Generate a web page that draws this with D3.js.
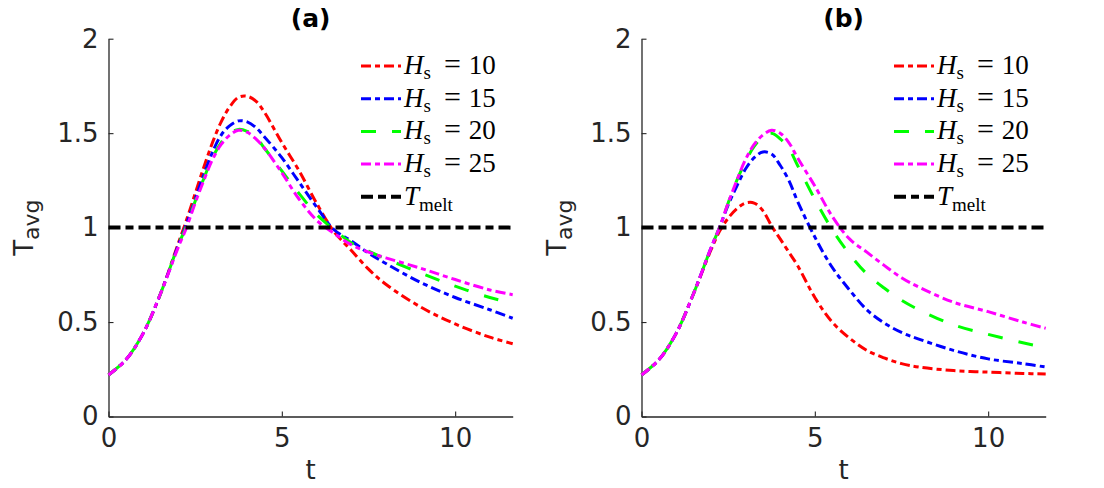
<!DOCTYPE html>
<html>
<head>
<meta charset="utf-8">
<script src="https://cdn.jsdelivr.net/npm/d3@7"></script>
<style>
  body { margin: 0; background: #fff; }
  svg { display: block; }
</style>
</head>
<body>
<div id="chart"></div>
<script>
// time grid shared by every curve
const tGrid = [0, 0.5, 1, 1.5, 2, 2.25, 2.5, 2.75, 3, 3.25, 3.5, 3.75, 4, 4.25, 4.5, 5, 5.5, 6, 6.5, 7, 7.5, 8, 9, 10, 11, 11.66];

// panel (a)
const aHs10 = [0.22, 0.30, 0.44, 0.65, 0.91, 1.04, 1.18, 1.32, 1.45, 1.56, 1.64, 1.69, 1.695, 1.67, 1.61, 1.45, 1.30, 1.13, 0.98, 0.88, 0.78, 0.70, 0.58, 0.49, 0.42, 0.385];
const aHs15 = [0.22, 0.30, 0.44, 0.65, 0.90, 1.02, 1.15, 1.28, 1.40, 1.49, 1.54, 1.565, 1.56, 1.53, 1.48, 1.37, 1.24, 1.11, 0.99, 0.93, 0.865, 0.81, 0.71, 0.63, 0.565, 0.52];
const aHs20 = [0.22, 0.30, 0.44, 0.65, 0.90, 1.01, 1.14, 1.26, 1.37, 1.45, 1.50, 1.52, 1.51, 1.48, 1.42, 1.30, 1.18, 1.07, 0.99, 0.92, 0.875, 0.835, 0.76, 0.69, 0.63, 0.60];
const aHs25 = [0.22, 0.30, 0.44, 0.65, 0.89, 1.00, 1.13, 1.25, 1.36, 1.44, 1.49, 1.515, 1.505, 1.47, 1.42, 1.29, 1.15, 1.04, 0.97, 0.91, 0.87, 0.84, 0.785, 0.725, 0.67, 0.645];

// panel (b)
const bHs10 = [0.22, 0.30, 0.44, 0.65, 0.88, 0.98, 1.05, 1.10, 1.13, 1.13, 1.09, 1.01, 0.94, 0.87, 0.80, 0.63, 0.50, 0.415, 0.35, 0.31, 0.28, 0.262, 0.243, 0.235, 0.228, 0.225];
const bHs15 = [0.22, 0.30, 0.44, 0.65, 0.89, 1.00, 1.12, 1.22, 1.31, 1.37, 1.40, 1.39, 1.33, 1.25, 1.14, 0.95, 0.79, 0.67, 0.565, 0.495, 0.445, 0.41, 0.35, 0.305, 0.28, 0.262];
const bHs20 = [0.22, 0.30, 0.44, 0.65, 0.89, 1.00, 1.13, 1.25, 1.35, 1.43, 1.48, 1.50, 1.47, 1.42, 1.33, 1.15, 0.99, 0.86, 0.755, 0.68, 0.615, 0.565, 0.485, 0.435, 0.39, 0.365];
const bHs25 = [0.22, 0.30, 0.44, 0.65, 0.89, 1.00, 1.13, 1.25, 1.36, 1.44, 1.49, 1.515, 1.50, 1.45, 1.37, 1.22, 1.06, 0.94, 0.87, 0.80, 0.735, 0.685, 0.605, 0.555, 0.50, 0.467];

const hsValues = [10, 15, 20, 25];
const tMelt = 1;
const xTicks = [0, 5, 10];
const yTicks = [0, 0.5, 1, 1.5, 2];
const xMax = 11.66;

const colors = ['#ff0000', '#0000ff', '#00ff00', '#ff00ff'];
const dashes = ['10,4,5,4', '10,4,5,4', '15,16', '10,4,5,4'];

const svgWidth = 1104;
const svgHeight = 488;
const axColor = '#262626';
const sansFont = '"DejaVu Sans", sans-serif';
const serifFont = '"Liberation Serif", "DejaVu Serif", serif';

const svg = d3.select('#chart')
  .append('svg')
  .attr('width', svgWidth)
  .attr('height', svgHeight);

function drawPanel(left, title, series) {
  const width = 404.2;
  const top = 38.7;
  const height = 416.5 - top;

  const g = svg.append('g')
    .attr('transform', `translate(${left},${top})`);

  const x = d3.scaleLinear().domain([0, xMax]).range([0, width]);
  const y = d3.scaleLinear().domain([0, 2]).range([height, 0]);

  // axes, ticks pointing inward like matlab
  const xAxis = g.append('g')
    .attr('transform', `translate(0,${height})`)
    .call(d3.axisBottom(x).tickValues(xTicks).tickFormat(d3.format('d'))
      .tickSizeInner(-5).tickSizeOuter(0).tickPadding(12));

  const yAxis = g.append('g')
    .call(d3.axisLeft(y).tickValues(yTicks).tickFormat(d => String(d))
      .tickSizeInner(-5).tickSizeOuter(0).tickPadding(10));

  [xAxis, yAxis].forEach(ax => {
    ax.select('.domain').attr('stroke', axColor).attr('stroke-width', 1.3);
    ax.selectAll('.tick line').attr('stroke', axColor).attr('stroke-width', 1.1);
    ax.selectAll('.tick text')
      .attr('fill', axColor)
      .style('font-family', sansFont)
      .style('font-size', '26px');
  });

  const line = d3.line()
    .x((d, i) => x(tGrid[i]))
    .y(d => y(d))
    .curve(d3.curveCatmullRom.alpha(0.5));

  series.forEach((s, i) => {
    g.append('path')
      .datum(s)
      .attr('d', line)
      .attr('fill', 'none')
      .attr('stroke', colors[i])
      .attr('stroke-width', 3)
      .attr('stroke-dasharray', dashes[i]);
  });

  // melting temperature
  g.append('line')
    .attr('x1', x(0))
    .attr('x2', x(xMax))
    .attr('y1', y(tMelt))
    .attr('y2', y(tMelt))
    .attr('stroke', '#000')
    .attr('stroke-width', 4)
    .attr('stroke-dasharray', '12,5,8,5');

  // title
  g.append('text')
    .attr('x', width / 2)
    .attr('y', -12)
    .attr('text-anchor', 'middle')
    .style('font-family', sansFont)
    .style('font-weight', 'bold')
    .style('font-size', '25px')
    .attr('fill', '#000')
    .text(title);

  // x label
  g.append('text')
    .attr('x', width / 2)
    .attr('y', height + 63)
    .attr('text-anchor', 'middle')
    .style('font-family', sansFont)
    .style('font-size', '26px')
    .attr('fill', axColor)
    .text('t');

  // y label T_avg
  const yl = g.append('text')
    .attr('transform', `translate(-76,${height / 2}) rotate(-90)`)
    .attr('text-anchor', 'middle')
    .style('font-family', sansFont)
    .style('font-size', '26px')
    .attr('fill', axColor);
  yl.append('tspan').text('T');
  yl.append('tspan').attr('dy', 6).style('font-size', '22px').text('avg');

  // legend
  const legend = g.append('g').attr('transform', `translate(${361 - 108.5},0)`);
  const rows = hsValues.map((h, i) => ({ h: h, color: colors[i], dash: dashes[i], w: 3 }));
  rows.push({ h: null, color: '#000', dash: '12,5,8,5', w: 4 });

  rows.forEach((r, i) => {
    const cy = 66 + i * 32.7 - top;
    legend.append('line')
      .attr('x1', 0).attr('x2', 40)
      .attr('y1', cy).attr('y2', cy)
      .attr('stroke', r.color)
      .attr('stroke-width', r.w)
      .attr('stroke-dasharray', r.dash);

    const txt = legend.append('text')
      .attr('x', 43)
      .attr('y', cy + 8)
      .style('font-family', serifFont)
      .style('font-size', '27px')
      .attr('fill', '#000');
    if (r.h !== null) {
      txt.append('tspan').style('font-style', 'italic').text('H');
      txt.append('tspan').attr('dy', 5).style('font-size', '19px').text('s');
      txt.append('tspan').attr('dy', -5).attr('dx', 13).style('font-size', '30px').text('=');
      txt.append('tspan').attr('dx', 8).text(r.h);
    } else {
      txt.append('tspan').style('font-style', 'italic').text('T');
      txt.append('tspan').attr('dy', 6).style('font-size', '19px').text('melt');
    }
  });
}

drawPanel(108.5, '(a)', [aHs10, aHs15, aHs20, aHs25]);
drawPanel(641.5, '(b)', [bHs10, bHs15, bHs20, bHs25]);
</script>
</body>
</html>
